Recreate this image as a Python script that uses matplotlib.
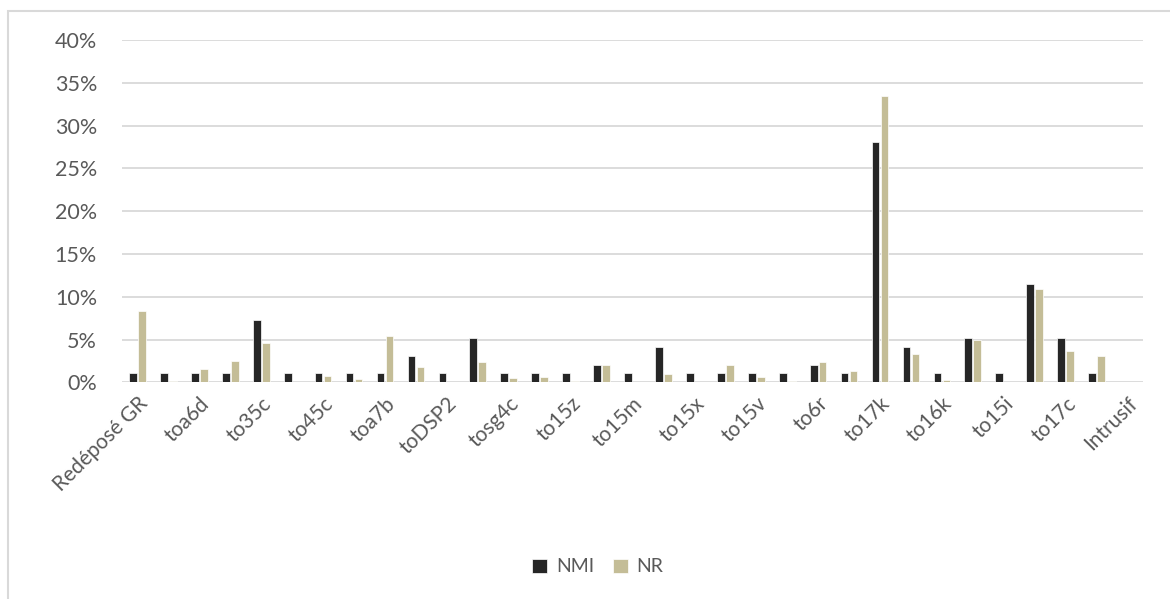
import numpy as np
import matplotlib.pyplot as plt
from matplotlib.patches import Rectangle
from matplotlib.ticker import FuncFormatter

plt.rcParams['font.family'] = ['Lato', 'DejaVu Sans']

# categories: only every other one carries a visible label
categories = ['Redéposé GR', '', 'toa6d', '', 'to35c', '', 'to45c', '', 'toa7b', '',
              'toDSP2', '', 'tosg4c', '', 'to15z', '', 'to15m', '', 'to15x', '',
              'to15v', '', 'to6r', '', 'to17k', '', 'to16k', '', 'to15i', '',
              'to17c', '', 'Intrusif']

# percentages
nmi = [1.04, 1.04, 1.04, 1.04, 7.29, 1.04, 1.04, 1.04, 1.04, 3.13,
       1.04, 5.21, 1.04, 1.04, 1.04, 2.08, 1.04, 4.17, 1.04, 1.04,
       1.04, 1.04, 2.08, 1.04, 28.13, 4.17, 1.04, 5.21, 1.04, 11.46,
       5.21, 1.04, 0]
nr = [8.28, 0.16, 1.60, 2.46, 4.65, 0.05, 0.70, 0.35, 5.39, 1.84,
      0.05, 2.34, 0.47, 0.62, 0.16, 2.00, 0.05, 0.98, 0.05, 2.00,
      0.62, 0.16, 2.34, 1.33, 33.40, 3.36, 0.31, 5.00, 0.05, 10.94,
      3.63, 3.09, 0]

W, H = 1170, 599
fig = plt.figure(figsize=(W / 100, H / 100), dpi=100)

# light chart border
fig.patches.append(Rectangle((8 / W, -0.1), 1.2, 1.1 - 11 / H, transform=fig.transFigure,
                             fill=False, edgecolor='#D9D9D9', lw=1.5))

left, right, top, bottom = 122, 1143, 40, 382.3
ax = fig.add_axes([left / W, 1 - bottom / H, (right - left) / W, (bottom - top) / H])

x = np.arange(len(categories))
bw = 0.25
ax.bar(x - 0.145, nmi, bw, color='#262626', edgecolor='white', linewidth=0.5, label='NMI', zorder=3)
ax.bar(x + 0.145, nr, bw, color='#C4BD97', edgecolor='white', linewidth=0.5, label='NR', zorder=3)

ax.set_xlim(-0.5, len(categories) - 0.5)
ax.set_ylim(0, 40)
ax.set_yticks(np.arange(0, 41, 5))
ax.yaxis.set_major_formatter(FuncFormatter(lambda v, p: f'{v:.0f}%'))
ax.grid(axis='y', color='#D9D9D9', lw=1.3, zorder=0)
for s in ax.spines.values():
    s.set_visible(False)

ax.set_xticks(x)
ax.set_xticklabels(categories, rotation=45, ha='right', rotation_mode='anchor')
ax.tick_params(axis='x', length=0, pad=8, labelsize=15, labelcolor='#595959')
ax.tick_params(axis='y', length=0, pad=18, labelsize=15.5, labelcolor='#595959')

fig.legend(loc='center', bbox_to_anchor=(598 / W, 1 - 567 / H), ncol=2, frameon=False,
           fontsize=14, labelcolor='#595959', handlelength=0.75, handleheight=0.75,
           handletextpad=0.45, columnspacing=1.0)

fig.savefig('out.png', dpi=100)
